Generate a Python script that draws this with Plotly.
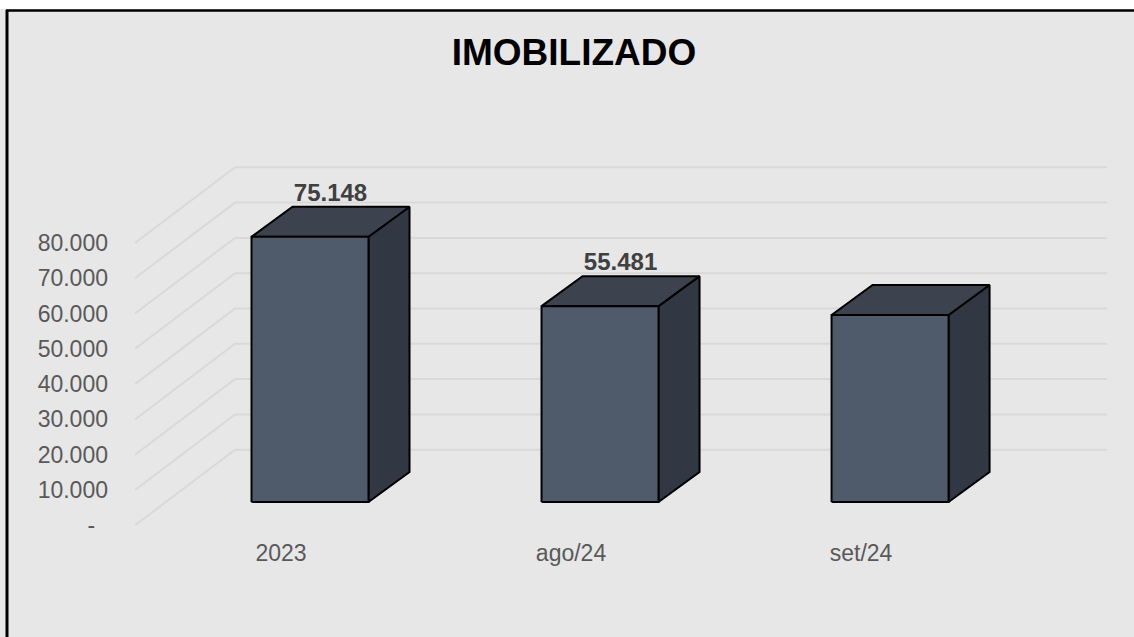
import plotly.graph_objects as go

# ---------------- data ----------------
categories = ["2023", "ago/24", "set/24"]
values = [75148, 55481, 52985]
value_labels = ["75.148", "55.481", ""]
y_ticks = [0, 10000, 20000, 30000, 40000, 50000, 60000, 70000, 80000]
y_tick_labels = ["-\u00a0\u00a0", "10.000", "20.000", "30.000", "40.000", "50.000",
                 "60.000", "70.000", "80.000"]
title_text = "IMOBILIZADO"

# ---------------- style (pseudo-3D geometry) ----------------
BAR_HALF = 0.2017        # half width of bar front face (category units)
DEPTH_X = 0.1414         # depth offset of bar, x (category units)
DEPTH_Y = 8500           # depth offset of bar, y (value units)
GRID_LEFT = -0.6034      # front-left end of grid diagonals
GRID_DX = 0.345          # diagonal run of floor/side wall
GRID_RIGHT = 2.748       # right end of back wall lines
GRID_FRONT_OFF = -6600   # vertical offset of gridline at front-left
GRID_BACK_OFF = 14820    # vertical offset of gridline at back wall

FRONT = "#4F5B6A"
TOP = "#3C424E"
SIDE = "#313843"
BG = "#E7E7E7"
GRID = "#D9D9D9"
FONT = "Liberation Sans, Arial, sans-serif"

fig = go.Figure()

# gridlines (side wall diagonal + back wall)
gx, gy = [], []
for t in y_ticks:
    gx += [GRID_LEFT, GRID_LEFT + GRID_DX, GRID_RIGHT, None]
    gy += [t + GRID_FRONT_OFF, t + GRID_BACK_OFF, t + GRID_BACK_OFF, None]
fig.add_trace(go.Scatter(x=gx, y=gy, mode="lines",
                         line=dict(color=GRID, width=2),
                         hoverinfo="skip", showlegend=False))

# bars
for i, v in enumerate(values):
    xl, xr = i - BAR_HALF, i + BAR_HALF
    # side face
    fig.add_trace(go.Scatter(
        x=[xr, xr + DEPTH_X, xr + DEPTH_X, xr, xr],
        y=[0, DEPTH_Y, v + DEPTH_Y, v, 0],
        fill="toself", fillcolor=SIDE, mode="lines",
        line=dict(color="black", width=2), hoverinfo="skip", showlegend=False))
    # top face
    fig.add_trace(go.Scatter(
        x=[xl, xl + DEPTH_X, xr + DEPTH_X, xr, xl],
        y=[v, v + DEPTH_Y, v + DEPTH_Y, v, v],
        fill="toself", fillcolor=TOP, mode="lines",
        line=dict(color="black", width=2), hoverinfo="skip", showlegend=False))
    # front face
    fig.add_trace(go.Scatter(
        x=[xl, xr, xr, xl, xl],
        y=[0, 0, v, v, 0],
        fill="toself", fillcolor=FRONT, mode="lines",
        line=dict(color="black", width=2), name=categories[i],
        hovertemplate=f"{categories[i]}: {v:,}<extra></extra>", showlegend=False))

# value labels
fig.add_trace(go.Scatter(
    x=[i + DEPTH_X / 2 for i in range(len(values))],
    y=[v + DEPTH_Y for v in values],
    mode="text", text=value_labels, textposition="top center",
    textfont=dict(family=FONT, size=24, color="#404040", weight="bold"),
    hoverinfo="skip", showlegend=False))

W, H = 1134, 637
L, R, T, B = 135, 27, 160, 107
px_per_unit_y = 35.3 / 10000
y_bottom = -(530 - 502) / px_per_unit_y
y_top = (502 - 160) / px_per_unit_y


def px(xp):
    return (xp - L) / (W - L - R)


def py(yp):
    return (H - B - yp) / (H - T - B)


fig.update_layout(
    width=W, height=H,
    margin=dict(l=L, r=R, t=T, b=B, pad=0),
    paper_bgcolor=BG, plot_bgcolor="rgba(0,0,0,0)",
    title=dict(text=f"<b>{title_text}</b>", x=574 / W, xref="container",
               xanchor="center", y=1 - 52 / H, yref="container",
               yanchor="middle",
               font=dict(family=FONT, size=37, color="black")),
    xaxis=dict(range=[GRID_LEFT, GRID_RIGHT], showgrid=False, zeroline=False,
               showline=False, tickmode="array",
               tickvals=[i - 0.1 for i in range(len(categories))],
               ticktext=categories, ticks="", ticklabelstandoff=7,
               tickfont=dict(family=FONT, size=23, color="#595959"),
               fixedrange=True),
    yaxis=dict(range=[y_bottom, y_top], showgrid=False, zeroline=False,
               showline=False, tickmode="array",
               tickvals=[t + GRID_FRONT_OFF for t in y_ticks],
               ticktext=y_tick_labels, ticks="", ticklabelstandoff=26,
               tickfont=dict(family=FONT, size=23, color="#595959"),
               fixedrange=True),
    shapes=[
        dict(type="rect", xref="paper", yref="paper",
             x0=px(-5), x1=px(W + 5), y0=py(9), y1=py(-5),
             fillcolor="white", line=dict(width=0), layer="above"),
        dict(type="line", xref="paper", yref="paper",
             x0=px(6), x1=px(W + 5), y0=py(10.5), y1=py(10.5),
             line=dict(color="black", width=2.5)),
        dict(type="line", xref="paper", yref="paper",
             x0=px(7), x1=px(7), y0=py(10), y1=py(H + 5),
             line=dict(color="black", width=3)),
    ],
)

fig.write_html("out.html",
               config={"displayModeBar": False},
               post_script="document.body.style.margin='0';"
                           "document.body.style.overflow='hidden';")
